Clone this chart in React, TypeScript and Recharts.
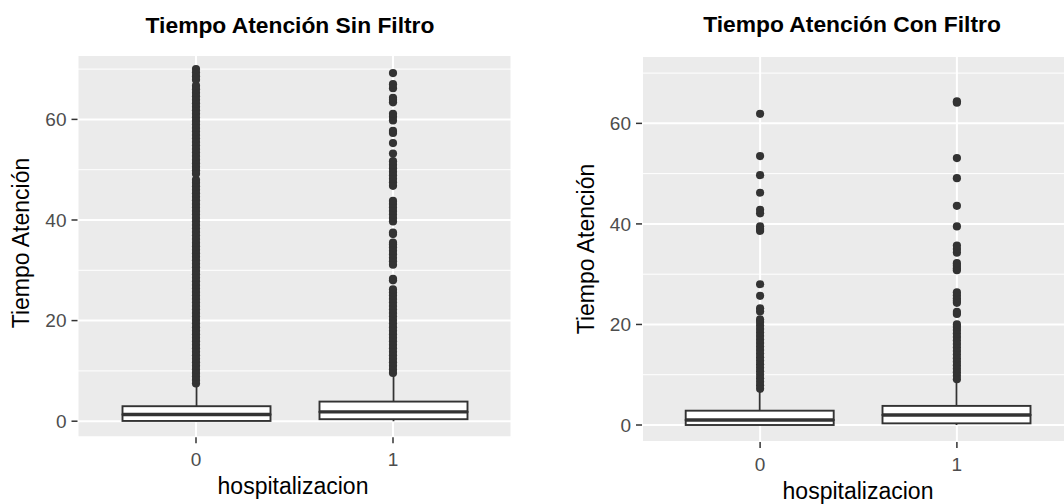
import React from 'react';
import { ComposedChart, Bar, Scatter, XAxis, YAxis, CartesianGrid } from 'recharts';

const FONT = "'Liberation Sans', Arial, Helvetica, sans-serif";

const categories = ['0', '1'];
const yTicks = [0, 20, 40, 60];
const yMinorTicks = [10, 30, 50, 70];

// ---- Tiempo Atención Sin Filtro ----
const sinMin = [0, 0];
const sinQ1 = [0.05, 0.4];
const sinMedian = [1.33, 1.85];
const sinQ3 = [2.98, 3.9];
const sinUpper = [7.2, 9.4];
const sinOutliers0 = [
  7.5, 8.2, 8.9, 9.6, 10.3, 11.0, 11.7, 12.4, 13.1, 13.8, 14.5, 15.2, 15.9, 16.6, 17.3, 18.0,
  18.7, 19.4, 20.1, 20.8, 21.5, 22.2, 22.9, 23.6, 24.3, 25.0, 25.7, 26.4, 27.1, 27.8, 28.5,
  29.2, 29.9, 30.6, 31.3, 32.0, 32.7, 33.4, 34.1, 34.8, 35.5, 36.2, 36.9, 37.6, 38.3, 39.0,
  39.7, 40.4, 41.1, 41.8, 42.5, 43.2, 43.9, 44.6, 45.3, 46.0, 46.7, 47.4, 48.0,
  49.2, 49.9, 50.6, 51.3, 52.0, 52.7, 53.4, 54.1, 54.8, 55.5, 56.2, 56.9, 57.6, 58.3, 59.0,
  59.7, 60.4, 61.1, 61.8, 62.5, 63.2, 63.9, 64.6, 65.3, 66.0, 66.7,
  67.9, 68.6, 69.3, 70.0,
];
const sinOutliers1 = [
  9.6, 10.3, 11.0, 11.7, 12.4, 13.1, 13.8, 14.5, 15.2, 15.9, 16.6, 17.3, 18.0, 18.7, 19.4,
  20.1, 20.8, 21.5, 22.2, 22.9, 23.6, 24.3, 25.0, 25.6, 26.2,
  28.0, 28.3,
  31.1, 31.8, 32.5, 33.2, 33.9, 34.6, 35.2, 35.5,
  37.2, 37.5,
  39.7, 40.4, 41.1, 41.8, 42.5, 43.2, 43.8,
  46.8, 47.5, 48.2, 48.9, 49.6, 50.3, 51.0, 51.7,
  53.2, 55.3, 57.3, 57.7, 59.8, 60.5, 61.1, 63.4, 63.9, 64.3, 66.2, 67.0, 69.2,
];

// ---- Tiempo Atención Con Filtro ----
const conMin = [0, 0];
const conQ1 = [0, 0.33];
const conMedian = [1.0, 2.0];
const conQ3 = [2.85, 3.8];
const conUpper = [6.9, 8.8];
const conOutliers0 = [
  7.2, 7.9, 8.6, 9.3, 10.0, 10.7, 11.4, 12.1, 12.8, 13.5, 14.2, 14.9, 15.6, 16.3, 17.0, 17.7,
  18.4, 19.1, 19.8, 20.5, 21.0,
  22.6, 23.2, 25.7, 28.0, 38.6, 39.0, 39.5, 42.1, 42.8, 46.2, 49.7, 53.5, 61.9,
];
const conOutliers1 = [
  9.1, 9.8, 10.5, 11.2, 11.9, 12.6, 13.3, 14.0, 14.7, 15.4, 16.1, 16.8, 17.5, 18.2, 18.9,
  19.5, 20.0,
  22.1, 22.5, 24.3, 24.7, 25.2, 25.8, 26.4, 30.8, 31.2, 31.7, 32.2, 34.3, 35.0, 35.7,
  39.5, 43.6, 49.1, 53.1, 64.1, 64.4,
];

function boxTable(mins: number[], q1: number[], med: number[], q3: number[], up: number[]) {
  return categories.map((c, i) => ({
    cat: c,
    base: mins[i],
    lowW: q1[i] - mins[i],
    boxLo: med[i] - q1[i],
    boxHi: q3[i] - med[i],
    hiW: up[i] - q3[i],
  }));
}

function outlierTable(o0: number[], o1: number[]) {
  return [
    ...o0.map((v) => ({ cat: categories[0], v })),
    ...o1.map((v) => ({ cat: categories[1], v })),
  ];
}

const INK = '#333333';

const Whisker = (p: any) => {
  const cx = p.x + p.width / 2;
  return <line x1={cx} x2={cx} y1={p.y} y2={p.y + p.height} stroke={INK} strokeWidth={1.8} />;
};
const BoxLo = (p: any) => (
  <rect x={p.x} y={p.y} width={p.width} height={p.height} fill="#FFFFFF" stroke={INK} strokeWidth={1.9} />
);
const BoxHi = (p: any) => (
  <g>
    <rect x={p.x} y={p.y} width={p.width} height={p.height} fill="#FFFFFF" stroke={INK} strokeWidth={1.9} />
    <line x1={p.x} x2={p.x + p.width} y1={p.y + p.height} y2={p.y + p.height} stroke={INK} strokeWidth={3.4} />
  </g>
);
const Dot = (p: any) => <circle cx={p.cx} cy={p.cy} r={4.1} fill={INK} />;

type PanelProps = {
  data: any[];
  outliers: any[];
  domain: [number, number];
  width: number;
  height: number;
  margin: { top: number; right: number; bottom: number; left: number };
  pad: number;
  barSize: number;
  tickMargin: number;
};

function Panel({ data, outliers, domain, width, height, margin, pad, barSize, tickMargin }: PanelProps) {
  return (
    <ComposedChart width={width} height={height} data={data} margin={margin}>
      <CartesianGrid fill="#EBEBEB" stroke="#FFFFFF" strokeWidth={1} vertical={false} horizontalValues={yMinorTicks} />
      <CartesianGrid stroke="#FFFFFF" strokeWidth={2} />
      <XAxis
        dataKey="cat"
        type="category"
        allowDuplicatedCategory={false}
        padding={{ left: pad, right: pad }}
        axisLine={false}
        tickLine={{ stroke: INK, strokeWidth: 1.5 }}
        tickSize={6}
        tickMargin={tickMargin}
        height={30}
        tick={{ fill: '#4D4D4D', fontSize: 19, fontFamily: FONT }}
      />
      <YAxis
        type="number"
        domain={domain}
        allowDataOverflow
        ticks={yTicks}
        interval={0}
        axisLine={false}
        tickLine={{ stroke: INK, strokeWidth: 1.5 }}
        tickSize={6}
        tickMargin={5}
        width={60}
        tick={{ fill: '#4D4D4D', fontSize: 19, fontFamily: FONT }}
      />
      <Bar dataKey="base" stackId="b" fill="none" barSize={barSize} isAnimationActive={false} />
      <Bar dataKey="lowW" stackId="b" shape={Whisker} barSize={barSize} isAnimationActive={false} />
      <Bar dataKey="boxLo" stackId="b" shape={BoxLo} barSize={barSize} isAnimationActive={false} />
      <Bar dataKey="boxHi" stackId="b" shape={BoxHi} barSize={barSize} isAnimationActive={false} />
      <Bar dataKey="hiW" stackId="b" shape={Whisker} barSize={barSize} isAnimationActive={false} />
      <Scatter data={outliers} dataKey="v" shape={Dot} isAnimationActive={false} />
    </ComposedChart>
  );
}

const sinData = boxTable(sinMin, sinQ1, sinMedian, sinQ3, sinUpper);
const sinOut = outlierTable(sinOutliers0, sinOutliers1);
const conData = boxTable(conMin, conQ1, conMedian, conQ3, conUpper);
const conOut = outlierTable(conOutliers0, conOutliers1);

export default function App() {
  return (
    <div
      style={{
        position: 'absolute',
        left: 0,
        top: 0,
        width: 1064,
        height: 504,
        overflow: 'hidden',
        background: '#FFFFFF',
        fontFamily: FONT,
      }}
    >
      <div style={{ position: 'absolute', left: 0, top: 0 }}>
        <Panel
          data={sinData}
          outliers={sinOut}
          domain={[-3.2, 72.8]}
          width={540}
          height={504}
          margin={{ top: 55, right: 28.5, bottom: 36.7, left: 17.5 }}
          pad={20}
          barSize={148}
          tickMargin={9}
        />
      </div>
      <div style={{ position: 'absolute', left: 540, top: 0 }}>
        <Panel
          data={conData}
          outliers={conOut}
          domain={[-3.38, 73.4]}
          width={560}
          height={504}
          margin={{ top: 56, right: 25, bottom: 32, left: 42 }}
          pad={19.7}
          barSize={148}
          tickMargin={10}
        />
      </div>
      <svg
        width={1064}
        height={504}
        style={{ position: 'absolute', left: 0, top: 0, pointerEvents: 'none' }}
        fontFamily={FONT}
      >
        <text x={290} y={33} textAnchor="middle" fontSize={22.8} fontWeight="bold" fill="#000000">
          Tiempo Atención Sin Filtro
        </text>
        <text x={852} y={32} textAnchor="middle" fontSize={22.8} fontWeight="bold" fill="#000000">
          Tiempo Atención Con Filtro
        </text>
        <text transform="translate(29,243) rotate(-90)" textAnchor="middle" fontSize={23} fill="#000000">
          Tiempo Atención
        </text>
        <text transform="translate(594,249) rotate(-90)" textAnchor="middle" fontSize={23} fill="#000000">
          Tiempo Atención
        </text>
        <text x={293} y={494} textAnchor="middle" fontSize={23} fill="#000000">
          hospitalizacion
        </text>
        <text x={858} y={499} textAnchor="middle" fontSize={23} fill="#000000">
          hospitalizacion
        </text>
      </svg>
    </div>
  );
}
